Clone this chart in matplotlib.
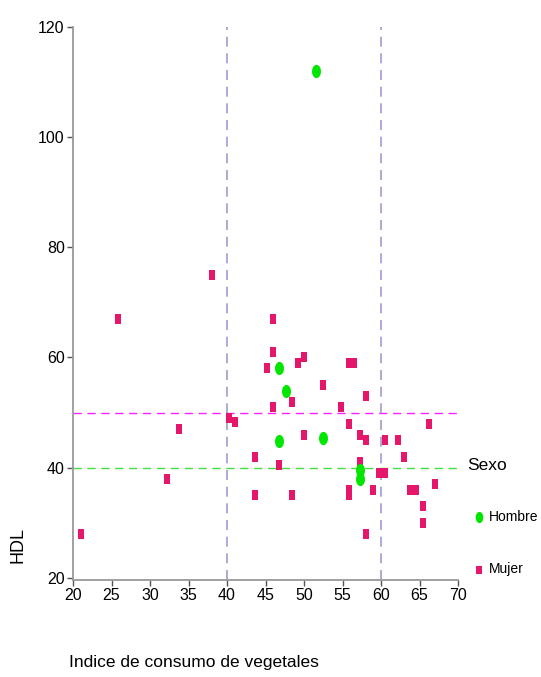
import matplotlib
matplotlib.use("Agg")
import matplotlib.pyplot as plt
import numpy as np
from matplotlib.path import Path

plt.rcParams['font.family'] = ['Liberation Sans', 'DejaVu Sans']

# Data
hombre_x = [51.6, 46.8, 47.6, 46.8, 52.5, 57.3, 57.3]
hombre_y = [112, 58, 54, 44.8, 45.3, 39.5, 38]

mujer_x = [21, 25.8, 38, 33.8, 32.2, 40.3, 41.1, 43.6, 43.6,
           46, 46, 50, 49.2, 55.8, 56.5, 45.2, 52.5, 58.1, 48.4, 46, 54.8,
           55.8, 66.2, 50, 57.3, 58.1, 60.5, 62.2, 63, 57.3, 46.8, 59.7, 60.5,
           67, 55.8, 55.8, 58.9, 63.8, 64.6, 48.4, 65.4, 65.4, 58.1]
mujer_y = [28, 67, 75, 47, 38, 49, 48.3, 42, 35,
           67, 61, 60, 59, 59, 59, 58, 55, 53, 52, 51, 51,
           48, 48, 46, 46, 45, 45, 45, 42, 41, 40.5, 39, 39,
           37, 36, 35, 36, 36, 36, 35, 33, 30, 28]

x_ticks = [20, 25, 30, 35, 40, 45, 50, 55, 60, 65, 70]
y_ticks = [20, 40, 60, 80, 100, 120]
h_refs = [50, 40]
v_refs = [40, 60]

# markers with aspect ratio
t = np.linspace(0, 2*np.pi, 40)
ell = Path(np.column_stack([0.68*np.cos(t), np.sin(t)]), closed=True)
rect = Path([[-0.33, -0.5], [0.33, -0.5], [0.33, 0.5], [-0.33, 0.5], [-0.33, -0.5]], closed=True)

fig = plt.figure(figsize=(5.41, 6.77), dpi=100)
ax = fig.add_axes([73/541, 1-580/677, (458-73)/541, (580-27)/677])

pink = '#E5176B'
green = '#00E600'

ax.axhline(h_refs[0], color='#FF22FF', lw=1.0, ls=(0, (6, 4)), zorder=1)
ax.axhline(h_refs[1], color='#44DD44', lw=1.0, ls=(0, (6, 4)), zorder=1)
for v in v_refs:
    ax.axvline(v, color='#9C9CCF', lw=1.2, ls=(0, (6, 4)), zorder=1)

ax.scatter(mujer_x, mujer_y, marker=rect, s=48, color=pink, lw=0, zorder=3, label='Mujer')
ax.scatter(hombre_x, hombre_y, marker=ell, s=90, color=green, lw=0, zorder=4, label='Hombre')

ax.set_xlim(20, 70)
ax.set_ylim(19.6, 120)
ax.set_xticks(x_ticks)
ax.set_yticks(y_ticks)
for s in ['top', 'right']:
    ax.spines[s].set_visible(False)
for s in ['left', 'bottom']:
    ax.spines[s].set_color('#999999')
    ax.spines[s].set_linewidth(1.3)
ax.tick_params(length=4, width=1, color='#555555', labelsize=11.5, pad=2)

ax.set_xlabel('Indice de consumo de vegetales', fontsize=12.5)
ax.xaxis.set_label_coords(-0.01, -0.135, transform=ax.transAxes)
ax.xaxis.label.set_horizontalalignment('left')
fig.text(18/541, 1-545/677, 'HDL', rotation=90, fontsize=13, ha='center', va='center')

fig.text(467/541, 1-465/677, 'Sexo', fontsize=12.5, ha='left', va='center')
fig.legend(handles=[ax.collections[1], ax.collections[0]], labels=['Hombre', 'Mujer'],
           loc='upper left', bbox_to_anchor=(472/541, 1-510/677), frameon=False,
           fontsize=10, labelspacing=2.75, handletextpad=0.2, handlelength=1.0,
           borderpad=0, borderaxespad=0, markerscale=0.85)

fig.savefig('out.png', dpi=100)
